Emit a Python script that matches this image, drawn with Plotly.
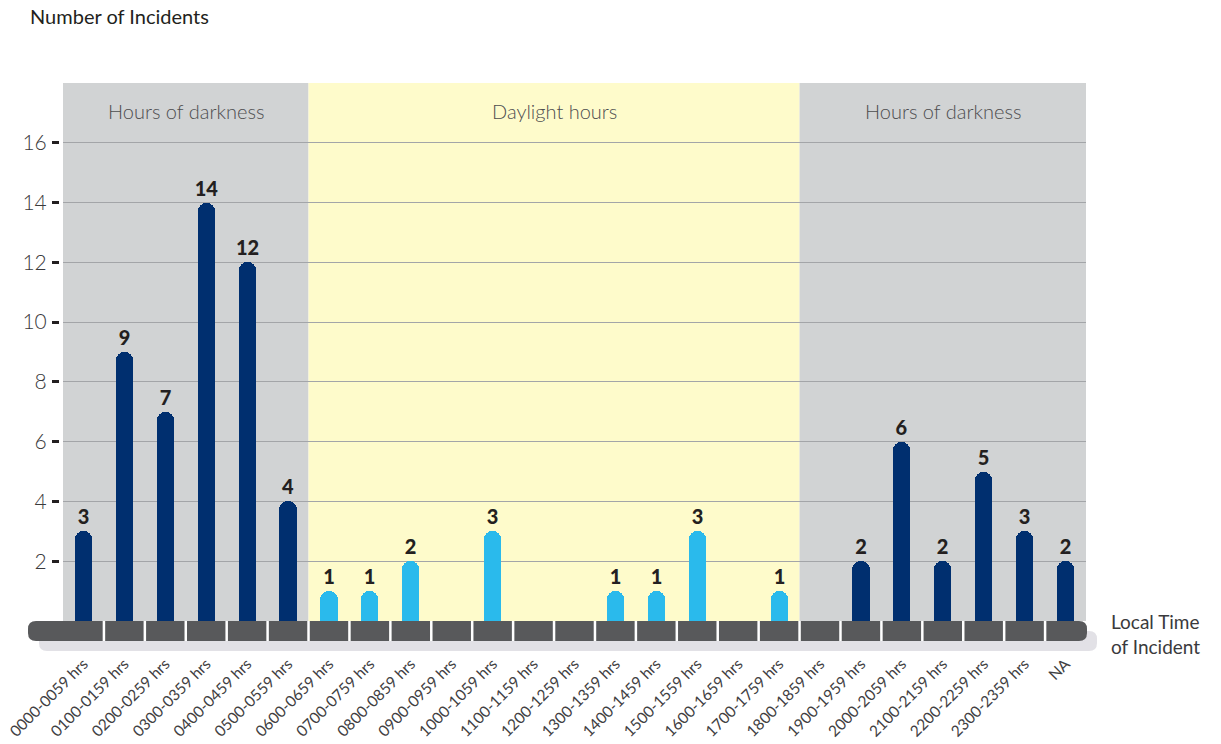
import plotly.graph_objects as go

categories = ["0000-0059 hrs", "0100-0159 hrs", "0200-0259 hrs", "0300-0359 hrs", "0400-0459 hrs",
              "0500-0559 hrs", "0600-0659 hrs", "0700-0759 hrs", "0800-0859 hrs", "0900-0959 hrs",
              "1000-1059 hrs", "1100-1159 hrs", "1200-1259 hrs", "1300-1359 hrs", "1400-1459 hrs",
              "1500-1559 hrs", "1600-1659 hrs", "1700-1759 hrs", "1800-1859 hrs", "1900-1959 hrs",
              "2000-2059 hrs", "2100-2159 hrs", "2200-2259 hrs", "2300-2359 hrs", "NA"]
incidents = [3, 9, 7, 14, 12, 4, 1, 1, 2, 0, 3, 0, 0, 1, 1, 3, 0, 1, 0, 2, 6, 2, 5, 3, 2]
daylight = [False] * 6 + [True] * 12 + [False] * 7
y_ticks = [2, 4, 6, 8, 10, 12, 14, 16]
regions = [("Hours of darkness", -0.5, 5.5, "#D1D3D4"),
           ("Daylight hours", 5.5, 17.5, "#FEFBCB"),
           ("Hours of darkness", 17.5, 24.5, "#D1D3D4")]

NAVY = "#002F6F"
LIGHT = "#2ABAEC"
FONT = "Lato"

W, H = 1221, 744
ML, MR, MT, MB = 59, 135, 83, 123
PW, PH = W - ML - MR, H - MT - MB


def X(px):
    return (px - ML) / PW


def Y(py):
    return (H - MB - py) / PH


def rrect(x0, y0, x1, y1, r):
    # pixel coords -> rounded rect path in paper coords
    rx, ry = r / PW, r / PH
    a0, a1 = X(x0), X(x1)
    b0, b1 = Y(y1), Y(y0)  # b0 bottom, b1 top
    return (f"M{a0+rx},{b1} L{a1-rx},{b1} Q{a1},{b1} {a1},{b1-ry} "
            f"L{a1},{b0+ry} Q{a1},{b0} {a1-rx},{b0} L{a0+rx},{b0} "
            f"Q{a0},{b0} {a0},{b0+ry} L{a0},{b1-ry} Q{a0},{b1} {a0+rx},{b1} Z")


x_idx = list(range(len(categories)))
colors = [LIGHT if d else NAVY for d in daylight]
texts = [str(v) if v > 0 else "" for v in incidents]

fig = go.Figure()
fig.add_trace(go.Bar(
    x=x_idx, y=incidents, width=0.42,
    marker=dict(color=colors, line=dict(width=0), cornerradius="50%"),
    text=texts, textposition="outside", constraintext="none", cliponaxis=False,
    textfont=dict(family=FONT, size=20, color="#231F20", weight=900),
    hoverinfo="skip",
))

shapes = []
for name, a, b, col in regions:
    shapes.append(dict(type="rect", xref="x", yref="y", x0=a, x1=b, y0=0, y1=18,
                       fillcolor=col, line=dict(width=0), layer="below"))
# base band shadow and band
shapes.append(dict(type="path", xref="paper", yref="paper", path=rrect(39, 631, 1097, 651, 8),
                   fillcolor="#E2E1E6", line=dict(width=0), layer="above"))
shapes.append(dict(type="path", xref="paper", yref="paper", path=rrect(28, 621, 1087, 641, 8),
                   fillcolor="#58595B", line=dict(width=0), layer="above"))
for i in range(len(categories) - 1):
    shapes.append(dict(type="line", xref="x", yref="paper", x0=i + 0.5, x1=i + 0.5,
                       y0=Y(641), y1=Y(621), line=dict(color="white", width=2.5), layer="above"))

annotations = []
for name, a, b, col in regions:
    annotations.append(dict(text=name, xref="x", yref="paper", x=(a + b) / 2, y=Y(111),
                            showarrow=False, xanchor="center", yanchor="middle",
                            font=dict(family=FONT, size=20, color="#4D4D4F", weight=300)))
annotations.append(dict(text="Local Time<br>of Incident", xref="paper", yref="paper",
                        x=X(1109), y=Y(634), xanchor="left", yanchor="middle", align="left",
                        showarrow=False, font=dict(family=FONT, size=19, color="#3A3A3C")))

fig.update_layout(
    width=W, height=H,
    margin=dict(l=ML, r=MR, t=MT, b=MB, autoexpand=False),
    paper_bgcolor="white", plot_bgcolor="white",
    showlegend=False,
    shapes=shapes, annotations=annotations,
    title=dict(text="Number of Incidents", xref="container", yref="container",
               x=30 / W, y=1 - 17 / H, xanchor="left", yanchor="middle",
               font=dict(family=FONT, size=20, color="#231F20")),
    xaxis=dict(range=[-0.5, 24.5], domain=[4 / PW, 1], tickmode="array", tickvals=x_idx,
               ticktext=categories, tickangle=-45, showgrid=False, zeroline=False,
               showline=False, ticks="", ticklabelstandoff=30, automargin=False,
               tickfont=dict(family=FONT, size=15.5, color="#414042")),
    yaxis=dict(range=[0, 18], tickmode="array", tickvals=y_ticks, anchor="free", position=0,
               showgrid=True, gridcolor="#A3A5A8", gridwidth=1, zeroline=False, showline=False,
               ticks="outside", ticklen=7, tickwidth=3, tickcolor="#231F20",
               ticklabelstandoff=1, automargin=False,
               tickfont=dict(family=FONT, size=21, color="#3A3A3C", weight=300)),
    bargap=0,
)

fig.write_html("out.html")
